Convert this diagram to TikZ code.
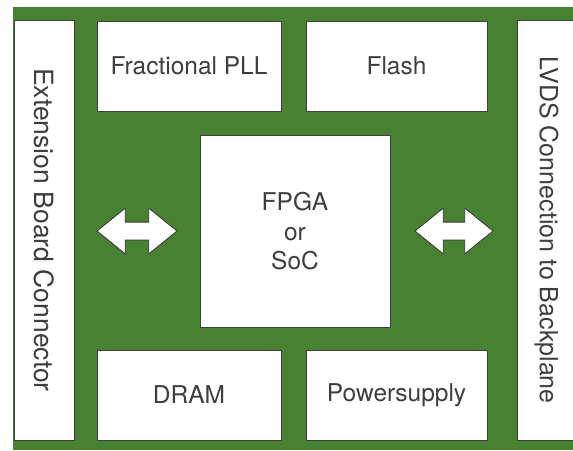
\documentclass[tikz,border=0pt]{standalone}
\usepackage{fontspec}
\setmainfont{TeX Gyre Heros}
\usetikzlibrary{shapes.arrows}
\definecolor{carte}{RGB}{73,129,51}
\definecolor{texte}{RGB}{62,62,62}
\begin{document}
\begin{tikzpicture}[x=1pt,y=-1pt]
\tikzstyle{bloc}=[draw=black!75,line width=0.8pt,fill=white,text=texte,inner sep=0pt,font=\fontsize{24.5}{30}\selectfont]
\tikzset{fleche/.style={double arrow,draw=black!80,line width=0.8pt,fill=white,
  inner xsep=0pt,inner ysep=8.5pt,minimum height=#1,
  double arrow head extend=14pt,double arrow tip angle=78},
fleche/.default={80pt}}
\useasboundingbox (0,0) rectangle (573,450);
\fill[carte] (13,7) rectangle (573,450);

\node[bloc,minimum width=184pt,minimum height=90pt] (pll) at (189,66) {Fractional PLL};
\node[bloc,minimum width=181pt,minimum height=90pt] (flash) at (396.5,66) {Flash};
\node[bloc,minimum width=184pt,minimum height=90pt] (dram) at (189,395) {DRAM};
\node[bloc,minimum width=181pt,minimum height=90pt] (alim) at (396.5,395) {Powersupply};
\node[bloc,minimum width=190pt,minimum height=192pt,align=center] (fpga) at (295,231) {FPGA\\or\\[-1pt]SoC};
\node[bloc,rotate=-90,minimum width=420pt,minimum height=60pt,font=\fontsize{26.5}{30}\selectfont] (ext) at (44,230) {Extension Board Connector};
\node[bloc,rotate=-90,minimum width=420pt,minimum height=59pt,font=\fontsize{25}{30}\selectfont] (lvds) at (546.5,230) {LVDS Connection to Backplane};

\node[fleche] (gauche) at (137,231) {};
\node[fleche=78pt] (droite) at (454,231) {};

\end{tikzpicture}
\end{document}
